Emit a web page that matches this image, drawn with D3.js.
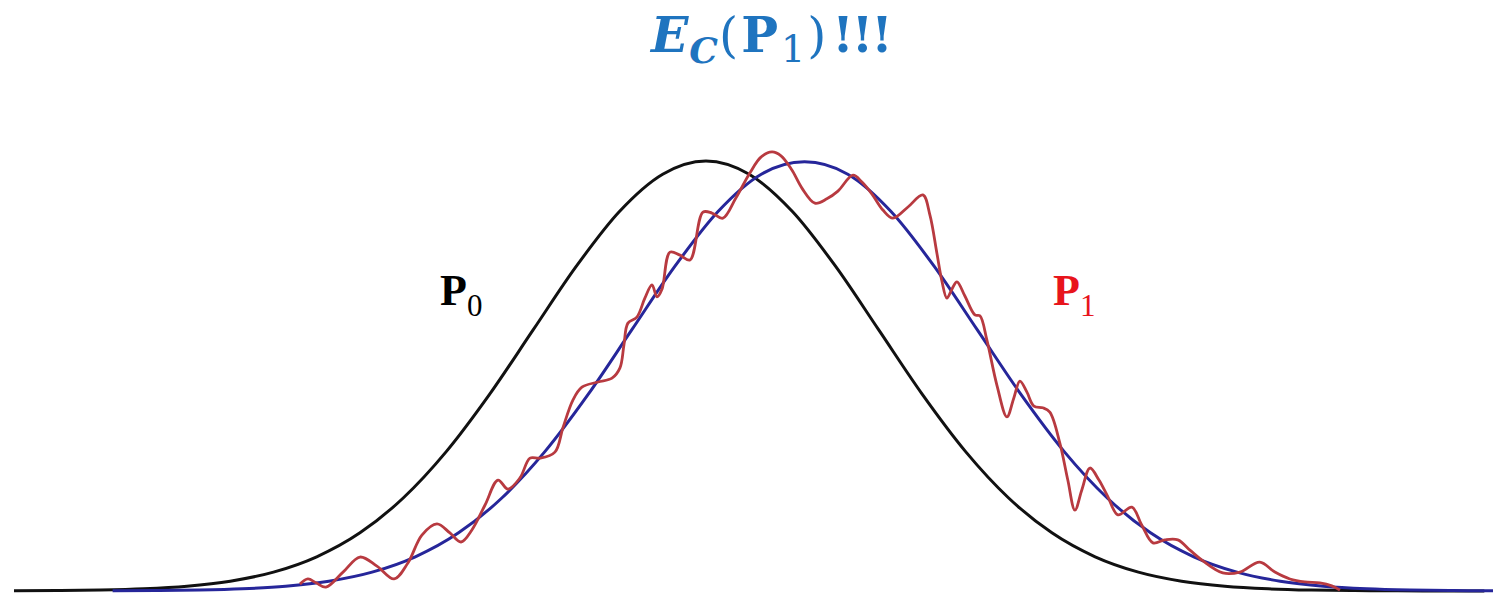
<!DOCTYPE html>
<html>
<head>
<meta charset="utf-8">
<script src="https://cdn.jsdelivr.net/npm/d3@7"></script>
<style>
  html, body { margin: 0; padding: 0; background: #fff; }
  svg { display: block; }
</style>
</head>
<body>
<svg id="chart" width="1493" height="596"></svg>
<script>
// ---- data ----
const p0X = [-4,-3.75,-3.5,-3.25,-3,-2.75,-2.5,-2.25,-2,-1.75,-1.5,-1.25,-1,-0.75,-0.5,-0.25,0,0.25,0.5,0.75,1,1.25,1.5,1.75,2,2.25,2.5,2.75,3,3.25,3.5,3.75,4,4.25,4.5];
const p0Y = [0.0003,0.0009,0.0022,0.0051,0.0111,0.0228,0.0439,0.0796,0.1353,0.2163,0.3247,0.4578,0.6065,0.7548,0.8825,0.9692,1.0000,0.9692,0.8825,0.7548,0.6065,0.4578,0.3247,0.2163,0.1353,0.0796,0.0439,0.0228,0.0111,0.0051,0.0022,0.0009,0.0003,0.0001,0.0000];

const fitX = [-3.43,-3.18,-2.93,-2.68,-2.43,-2.18,-1.93,-1.68,-1.43,-1.18,-0.93,-0.68,-0.43,-0.18,0.07,0.32,0.57,0.82,1.07,1.32,1.57,1.82,2.07,2.32,2.57,2.82,3.07,3.32,3.57,3.82,4.07,4.32,4.57];
const fitY = [0.0003,0.0009,0.0022,0.0051,0.0111,0.0228,0.0439,0.0796,0.1353,0.2163,0.3247,0.4578,0.6065,0.7548,0.8825,0.9692,0.998,0.9692,0.8825,0.7548,0.6065,0.4578,0.3247,0.2163,0.1353,0.0796,0.0439,0.0228,0.0111,0.0051,0.0022,0.0009,0.0003];

const p1X = [-2.347,-2.301,-2.254,-2.197,-2.098,-2.000,-1.902,-1.803,-1.723,-1.642,-1.555,-1.480,-1.416,-1.353,-1.277,-1.202,-1.145,-1.075,-1.017,-0.960,-0.873,-0.827,-0.769,-0.717,-0.624,-0.543,-0.497,-0.474,-0.451,-0.399,-0.353,-0.312,-0.283,-0.254,-0.208,-0.150,-0.092,-0.017,0.035,0.098,0.173,0.254,0.318,0.382,0.434,0.497,0.555,0.630,0.699,0.763,0.850,0.902,0.960,1.023,1.081,1.168,1.254,1.295,1.335,1.364,1.393,1.422,1.451,1.497,1.555,1.584,1.624,1.682,1.740,1.780,1.815,1.855,1.896,1.948,1.988,2.046,2.092,2.133,2.173,2.220,2.272,2.324,2.382,2.462,2.520,2.584,2.653,2.728,2.798,2.873,2.988,3.087,3.202,3.289,3.376,3.462,3.549,3.618,3.665];
const p1Y = [0.016,0.028,0.019,0.009,0.044,0.079,0.058,0.028,0.065,0.130,0.156,0.135,0.114,0.142,0.200,0.258,0.237,0.263,0.309,0.309,0.323,0.379,0.444,0.474,0.486,0.495,0.519,0.572,0.623,0.637,0.681,0.712,0.684,0.702,0.788,0.781,0.770,0.881,0.879,0.867,0.914,0.972,1.009,1.021,1.012,0.979,0.937,0.902,0.912,0.930,0.967,0.951,0.923,0.886,0.867,0.893,0.921,0.874,0.786,0.721,0.681,0.702,0.719,0.686,0.642,0.640,0.584,0.479,0.405,0.449,0.488,0.463,0.430,0.426,0.416,0.344,0.258,0.188,0.235,0.286,0.258,0.219,0.177,0.195,0.153,0.112,0.119,0.119,0.095,0.070,0.042,0.044,0.067,0.044,0.028,0.021,0.019,0.012,0.002];

const xDomain = [-4, 4.55];
const yDomain = [0, 1];

// ---- drawing ----
const svg = d3.select("#chart");
const x = d3.scaleLinear().domain(xDomain).range([14, 1493]);
const y = d3.scaleLinear().domain(yDomain).range([591, 161]);

function pts(xs, ys) { return xs.map((v, i) => [v, ys[i]]); }

const smooth = d3.line().x(d => x(d[0])).y(d => y(d[1])).curve(d3.curveMonotoneX);
const wiggly = d3.line().x(d => x(d[0])).y(d => y(d[1])).curve(d3.curveCatmullRom.alpha(0.5));

svg.append("path").datum(pts(p0X, p0Y)).attr("d", smooth)
  .attr("fill", "none").attr("stroke", "#111").attr("stroke-width", 3);
svg.append("path").datum(pts(fitX, fitY)).attr("d", smooth)
  .attr("fill", "none").attr("stroke", "#26269a").attr("stroke-width", 3);
svg.append("path").datum(pts(p1X, p1Y)).attr("d", wiggly)
  .attr("fill", "none").attr("stroke", "#b83a40").attr("stroke-width", 2.8)
  .attr("stroke-linejoin", "round");

// title
const title = svg.append("text").attr("x", 651).attr("y", 52)
  .attr("text-anchor", "start")
  .attr("font-family", "DejaVu Serif")
  .attr("font-weight", "bold")
  .attr("font-size", 49)
  .attr("fill", "#1f74bf");
title.append("tspan").attr("font-style", "italic").text("E");
title.append("tspan").attr("font-style", "italic").attr("font-size", 36).attr("dy", 11).attr("dx", 1).text("C");
title.append("tspan").attr("font-weight", "normal").attr("dy", -11).attr("dx", 1).text("(");
title.append("tspan").attr("dx", 3).text("P");
title.append("tspan").attr("font-weight", "normal").attr("font-size", 38).attr("dy", 10).attr("dx", 3).text("1");
title.append("tspan").attr("font-weight", "normal").attr("dy", -10).attr("dx", 2).text(")");
title.append("tspan").attr("dx", 6).attr("letter-spacing", -2).text("!!!");

// labels
function label(px, py, sub, color) {
  const t = svg.append("text").attr("x", px).attr("y", py)
    .attr("font-family", "Liberation Serif").attr("fill", color);
  t.append("tspan").attr("font-weight", "bold").attr("font-size", 44).text("P");
  t.append("tspan").attr("font-size", 31).attr("dy", 11).text(sub);
}
label(440, 305, "0", "#000");
label(1053, 305, "1", "#e8141c");
</script>
</body>
</html>
